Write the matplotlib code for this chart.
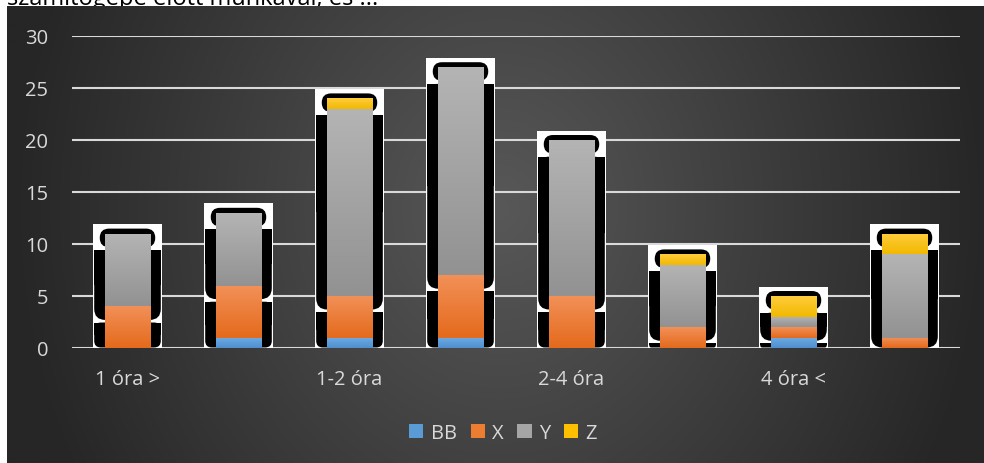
import numpy as np
import matplotlib
matplotlib.use("Agg")
import matplotlib.pyplot as plt
from matplotlib.patches import FancyBboxPatch, Rectangle, Patch

# ---------------------------------------------------------------------------
# Data
# ---------------------------------------------------------------------------
tick_labels = ["1 óra >", "1-2 óra", "2-4 óra", "4 óra <"]
series_names = ["BB", "X", "Y", "Z"]
bb = [0, 1, 1, 1, 0, 0, 1, 0]
x_vals = [4, 5, 4, 6, 5, 2, 1, 1]
y_vals = [7, 7, 18, 20, 15, 6, 1, 8]
z_vals = [0, 0, 1, 0, 0, 1, 2, 2]
title_text = "számítógépe előtt munkával, és ..."

# gradient (top, bottom) per series
GRADS = {
    "BB": ("#6fabe3", "#4f8fcf"),
    "X": ("#f29057", "#e46a1c"),
    "Y": ("#b4b4b4", "#929292"),
    "Z": ("#ffcd3c", "#f2b800"),
}
LEGEND_COLORS = {"BB": "#5b9bd5", "X": "#ed7d31", "Y": "#a5a5a5", "Z": "#ffc000"}

FONT = ["Open Sans", "DejaVu Sans"]
TXT = "#d9d9d9"

W, H = 984, 464
AX_L, AX_R, AX_T, AX_B = 72, 960, 37, 349
YMAX = 30
N = len(bb)
BAR_W = 0.414
BOX_W = 0.63
BODY_W = 0.60
CAP_W = 0.50
ASPECT = (YMAX / (AX_B - AX_T)) / (N / (AX_R - AX_L))


def hex_rgb(h):
    h = h.lstrip("#")
    return np.array([int(h[i:i + 2], 16) / 255 for i in (0, 2, 4)])


def rounded(ax, x0, y0, w, h, r, square_top=False, **kw):
    if h <= 0:
        return
    r_eff = max(min(r, w / 2, h / 2 / ASPECT), 1e-4)
    ax.add_patch(FancyBboxPatch((x0, y0), w, h,
                                boxstyle=f"round,pad=0,rounding_size={r_eff}",
                                mutation_aspect=ASPECT, **kw))
    if square_top:
        ax.add_patch(Rectangle((x0, y0 + h / 2), w, h / 2, **kw))


fig = plt.figure(figsize=(W / 100, H / 100), dpi=100)
fig.patch.set_facecolor("white")

# title, partly hidden under the chart panel
fig.text(7 / W, 1 - 5 / H, title_text, fontsize=17, family=FONT,
         color="black", va="baseline", ha="left", zorder=-1)

# chart panel with radial gradient
bg = fig.add_axes([7 / W, 0, (W - 7) / W, (H - 7) / H], zorder=-0.5)
bg.set_axis_off()
px = np.linspace(7, W, 400)
py = np.linspace(7, H, 200)
gx, gy = np.meshgrid(px, py)
d = np.sqrt(((gx - 500) / 490) ** 2 + ((gy - 210) / 560) ** 2)
d = np.clip(d, 0, 1)
c_in, c_out = 0x58 / 255, 0x26 / 255
val = c_in + (c_out - c_in) * d
bg.imshow(np.dstack([val, val, val]), aspect="auto", extent=(0, 1, 0, 1),
          interpolation="bilinear")
bg.set_xlim(0, 1)
bg.set_ylim(0, 1)

ax = fig.add_axes([AX_L / W, 1 - AX_B / H, (AX_R - AX_L) / W, (AX_B - AX_T) / H])
ax.patch.set_alpha(0)
for s in ax.spines.values():
    s.set_visible(False)

xs = np.arange(N)
totals = np.array(bb) + np.array(x_vals) + np.array(y_vals) + np.array(z_vals)
x_tops = np.array(bb) + np.array(x_vals)

# frame and shadow shapes behind each stack
for xi, tot, xt in zip(xs, totals, x_tops):
    ax.add_patch(Rectangle((xi - BOX_W / 2, 0), BOX_W, tot + 0.9,
                           facecolor="white", edgecolor="none", zorder=2))
    k = dict(facecolor="black", edgecolor="none", zorder=2.2)
    rounded(ax, xi - CAP_W / 2, tot - 1.3, CAP_W, 1.78, 0.1, **k)
    split = xt - 1.3
    body_top = tot - 1.6
    if split > 0.3:
        rounded(ax, xi - BODY_W / 2, split, BODY_W, body_top - split, 0.1,
                square_top=True, **k)
        rounded(ax, xi - BODY_W / 2, 0.05, BODY_W, split - 0.3, 0.06,
                square_top=True, **k)
    else:
        rounded(ax, xi - BODY_W / 2, 0.05, BODY_W, body_top - 0.05, 0.1,
                square_top=True, **k)

# stacked bars with vertical gradient fill
bottom = np.zeros(N)
for name, vals in zip(series_names, [bb, x_vals, y_vals, z_vals]):
    bars = ax.bar(xs, vals, BAR_W, bottom=bottom, color="none",
                  edgecolor="none", zorder=3)
    top_c, bot_c = hex_rgb(GRADS[name][0]), hex_rgb(GRADS[name][1])
    t = np.linspace(0, 1, 64)[:, None]
    grad = (top_c[None, :] * (1 - t) + bot_c[None, :] * t)[:, None, :]
    for rect in bars:
        if rect.get_height() <= 0:
            continue
        x0, y0 = rect.get_x(), rect.get_y()
        im = ax.imshow(grad, extent=(x0, x0 + rect.get_width(), y0,
                                     y0 + rect.get_height()),
                       aspect="auto", zorder=3, interpolation="bilinear")
        im.set_clip_path(rect)
    bottom = bottom + np.array(vals)

ax.set_xlim(-0.5, N - 0.5)
ax.set_ylim(0, YMAX)
ax.set_yticks(np.arange(0, YMAX + 1, 5))
ax.set_xticks(xs[::2])
ax.set_xticklabels(tick_labels)
ax.yaxis.grid(True, color=TXT, linewidth=1.5, zorder=0.5)
ax.set_axisbelow(True)
ax.tick_params(axis="both", length=0, labelcolor=TXT, labelsize=14.5)
ax.tick_params(axis="y", pad=17)
ax.tick_params(axis="x", pad=15)
for lab in ax.get_xticklabels() + ax.get_yticklabels():
    lab.set_family(FONT)

handles = [Patch(facecolor=LEGEND_COLORS[n], edgecolor="none") for n in series_names]
leg = fig.legend(handles, series_names, loc="center", ncol=4,
                 bbox_to_anchor=(503 / W, 1 - 434 / H), frameon=False,
                 prop={"family": FONT, "size": 14.5},
                 handlelength=0.7, handleheight=0.7, handletextpad=0.35,
                 columnspacing=0.7)
for t in leg.get_texts():
    t.set_color(TXT)

fig.savefig("out.png", dpi=100)
